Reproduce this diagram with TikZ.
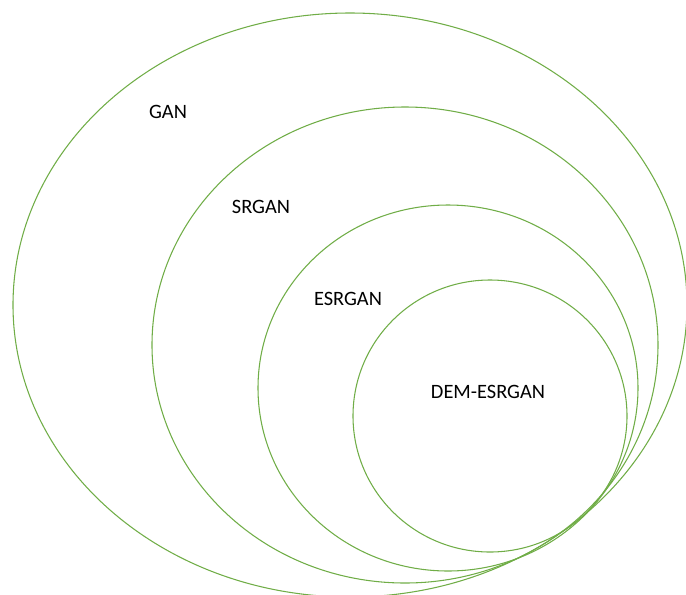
\documentclass[tikz,border=0pt]{standalone}
\usepackage{fontspec}
\setmainfont{Carlito}
\usepackage{tikz}
\definecolor{ringgreen}{HTML}{70AD47}

\begin{document}
\begin{tikzpicture}[x=0.75pt,y=-0.75pt,
    ring/.style={draw=ringgreen,line width=0.8pt},
    lbl/.style={font=\fontsize{15.3}{18}\selectfont,inner sep=0pt}]
        \useasboundingbox (0,0) rectangle (686,594);
        \coordinate (G) at (350,305); % GAN
        \coordinate (S) at (405,345); % SRGAN
        \coordinate (E) at (448,388); % ESRGAN
        \coordinate (D) at (490,416); % DEM-ESRGAN

        \draw[ring] (G) ellipse [x radius=337, y radius=292];
        \draw[ring] (S) ellipse [x radius=253, y radius=238];
        \draw[ring] (E) ellipse [x radius=190, y radius=183];
        \draw[ring] (D) ellipse [x radius=137, y radius=136];

        \node[lbl] (gan) at (168,112) {GAN};
        \node[lbl] (srgan) at (261,207) {SRGAN};
        \node[lbl] (esrgan) at (348,299) {ESRGAN};
        \node[lbl] (dem) at (488,392) {DEM-ESRGAN};
    \end{tikzpicture}
\end{document}
